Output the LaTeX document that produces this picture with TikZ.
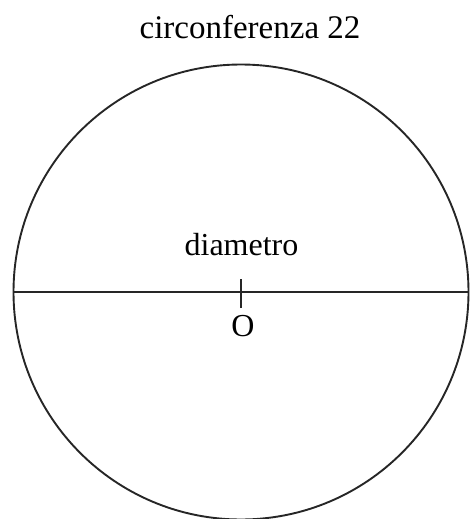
\documentclass[tikz,border=0pt]{standalone}
\usepackage{fontspec}
\setmainfont{Liberation Serif}
\usetikzlibrary{positioning}

\begin{document}
\begin{tikzpicture}[
		x=1pt, y=-1pt,
		label/.style={font=\fontsize{32}{36}\selectfont, inner sep=0pt},
		line/.style={line width=1.9pt, draw=black!85}
	]
	\useasboundingbox (0,0) rectangle (469,519);

	% Circle and centre
	\coordinate (O) at (241,292);
	\draw[line] (O) circle[radius=227.5];
	\coordinate (left) at (13.5,292);
	\coordinate (right) at (468.5,292);

	% Nodes
	\node[label, font=\fontsize{33}{36}\selectfont] (title) at (250,27) {circonferenza 22};
	\node[label] (diam) at (241.5,245) {diametro};
	\node[label] (centre) at (243,326.5) {O};

	% Diameter and tick
	\draw[line] (left) -- (right);
	\draw[line] ([yshift=-16pt]O) -- ([yshift=13pt]O);

\end{tikzpicture}
\end{document}
